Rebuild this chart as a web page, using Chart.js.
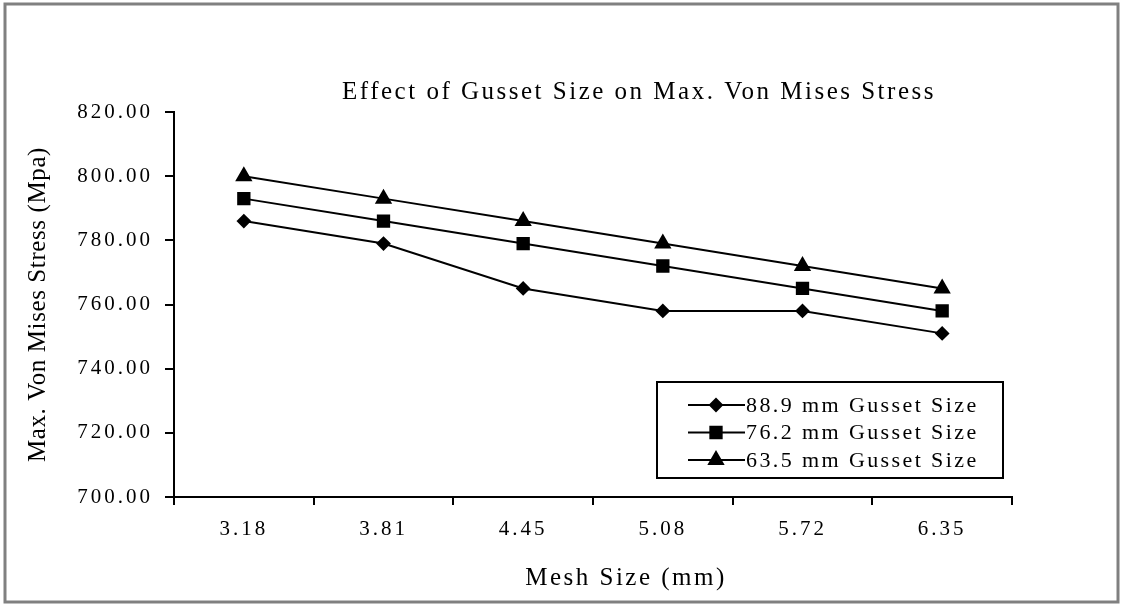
<!DOCTYPE html>
<html>
<head>
<meta charset="utf-8">
<script src="https://cdn.jsdelivr.net/npm/chart.js@4/dist/chart.umd.min.js"></script>
<style>
  html, body { margin: 0; padding: 0; background: #fff; }
  #wrap { width: 1121px; height: 605px; }
</style>
</head>
<body>
<div id="wrap"><canvas id="myChart" width="1121" height="605"></canvas></div>
<script>
// data
var meshSizes = ['3.18', '3.81', '4.45', '5.08', '5.72', '6.35'];
var gusset889 = [786, 779, 765, 758, 758, 751];
var gusset762 = [793, 786, 779, 772, 765, 758];
var gusset635 = [800, 793, 786, 779, 772, 765];
var yTicks = [700, 720, 740, 760, 780, 800, 820];

var serif = '"Liberation Serif", "Times New Roman", serif';

// the original text is drawn wide, so space the letters out
function spaced(chart) {
    chart.ctx.letterSpacing = '3px';
}

// run one draw method with its own letter spacing (and optional shift)
function wrapDraw(obj, method, sp, dx) {
    if (obj['_wrapped_' + method]) return;
    var orig = obj[method];
    obj[method] = function() {
        var c = this.ctx;
        var old = c.letterSpacing;
        c.save();
        c.letterSpacing = sp;
        c.translate(dx || 0, 0);
        orig.apply(this, arguments);
        c.restore();
        c.letterSpacing = old;
    };
    obj['_wrapped_' + method] = true;
}

var frame = {
    id: 'frame',
    beforeUpdate: spaced,
    beforeLayout: spaced,
    afterLayout: function(chart) {
        // title sits right of centre in the original
        chart.titleBlock.left = 2 * 639 - chart.titleBlock.right;
        wrapDraw(chart.titleBlock, 'draw', '2.5px', 0);
        wrapDraw(chart.scales.x, 'drawTitle', '2.5px', 33);
        wrapDraw(chart.scales.y, 'drawTitle', '0.6px', 0);
    },
    beforeDraw: function(chart) {
        spaced(chart);
        var c = chart.ctx;
        c.save();
        c.fillStyle = '#fff';
        c.fillRect(0, 0, chart.width, chart.height);
        c.strokeStyle = '#808080';
        c.lineWidth = 3;
        c.strokeRect(5, 4, chart.width - 8, chart.height - 7);
        c.restore();
    }
};

// boxed legend inside the plot, bottom right
var boxLegend = {
    id: 'boxLegend',
    afterDraw: function(chart) {
        var c = chart.ctx;
        var a = chart.chartArea;
        var x0 = a.right - 355, y0 = a.bottom - 115, w = 346, h = 96;
        c.save();
        c.letterSpacing = '2.4px';
        c.fillStyle = '#fff';
        c.fillRect(x0, y0, w, h);
        c.strokeStyle = '#000';
        c.lineWidth = 2;
        c.strokeRect(x0, y0, w, h);
        c.font = '22px ' + serif;
        c.textBaseline = 'middle';
        c.fillStyle = '#000';
        chart.data.datasets.forEach(function(ds, i) {
            var y = y0 + 23 + i * 27.5;
            c.beginPath();
            c.moveTo(x0 + 31, y);
            c.lineTo(x0 + 88, y);
            c.lineWidth = 2;
            c.stroke();
            Chart.helpers.drawPoint(c, {
                pointStyle: ds.pointStyle,
                radius: ds.pointRadius,
                borderWidth: 1
            }, x0 + 59, y);
            c.fillText(ds.label, x0 + 89, y + 1);
        });
        c.restore();
    }
};

var ctx = document.getElementById('myChart').getContext('2d');
var myChart = new Chart(ctx, {
    type: 'line',
    data: {
        labels: meshSizes,
        datasets: [{
            label: '88.9 mm Gusset Size',
            data: gusset889,
            pointStyle: 'rectRot',
            pointRadius: 6
        },
        {
            label: '76.2 mm Gusset Size',
            data: gusset762,
            pointStyle: 'rect',
            pointRadius: 8
        },
        {
            label: '63.5 mm Gusset Size',
            data: gusset635,
            pointStyle: 'triangle',
            pointRadius: 8
        }].map(function(d) {
            d.borderColor = '#000';
            d.backgroundColor = '#000';
            d.pointBorderColor = '#000';
            d.pointBackgroundColor = '#000';
            d.borderWidth = 2;
            d.tension = 0;
            return d;
        })
    },
    plugins: [frame, boxLegend],
    options: {
        responsive: false,
        animation: false,
        layout: {
            padding: { left: 23, right: 109, top: 0, bottom: 10 }
        },
        plugins: {
            legend: { display: false },
            tooltip: { enabled: false },
            title: {
                display: true,
                text: 'Effect of Gusset Size on Max. Von Mises Stress',
                color: '#000',
                font: { family: serif, size: 25, weight: 'normal' },
                padding: { top: 77, bottom: 5 }
            }
        },
        scales: {
            x: {
                offset: true,
                grid: {
                    offset: true,
                    drawOnChartArea: false,
                    tickLength: 8,
                    color: '#000',
                    lineWidth: 2
                },
                border: { color: '#000', width: 2 },
                ticks: {
                    color: '#000',
                    font: { family: serif, size: 21 },
                    padding: 12,
                    maxRotation: 0
                },
                title: {
                    display: true,
                    text: 'Mesh Size (mm)',
                    color: '#000',
                    font: { family: serif, size: 25 },
                    padding: { top: 10, bottom: 2 }
                },
                afterFit: function(s) { s.height = 98; }
            },
            y: {
                min: yTicks[0],
                max: yTicks[yTicks.length - 1],
                afterBuildTicks: function(s) {
                    s.ticks = yTicks.map(function(v) { return { value: v }; });
                },
                grid: {
                    drawOnChartArea: false,
                    tickLength: 9,
                    color: '#000',
                    lineWidth: 2
                },
                border: { color: '#000', width: 2 },
                ticks: {
                    color: '#000',
                    font: { family: serif, size: 21 },
                    padding: 12,
                    callback: function(v) { return Number(v).toFixed(2); }
                },
                title: {
                    display: true,
                    text: 'Max. Von Mises Stress (Mpa)',
                    color: '#000',
                    font: { family: serif, size: 25 },
                    padding: { top: 0, bottom: 6 }
                },
                afterFit: function(s) { s.width = 151; }
            }
        }
    }
});
</script>
</body>
</html>
